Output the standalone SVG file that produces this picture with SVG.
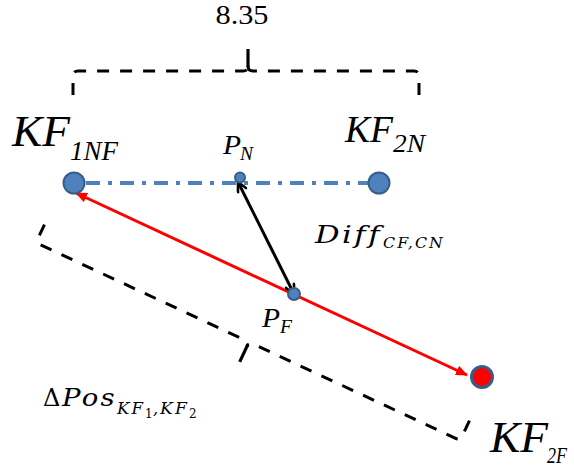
<svg xmlns="http://www.w3.org/2000/svg" width="574" height="471" viewBox="0 0 574 471">
<defs>
<style>
.brace{fill:none;stroke:#000;stroke-width:3;stroke-dasharray:12 11}
.tick{fill:none;stroke:#000;stroke-width:3.2}
.kf{font-family:"Liberation Serif","Times New Roman","DejaVu Serif",serif;font-style:italic;fill:#000}
.math{font-family:"DejaVu Serif","Liberation Serif",serif;font-style:italic;fill:#000;font-variant-ligatures:none;letter-spacing:2px}
.up{font-family:"DejaVu Serif","Liberation Serif",serif;fill:#000}
.node{fill:#4F81BD;stroke:#385D8A;stroke-width:2}
</style>
<marker id="redHead" viewBox="0 0 12 10" refX="11" refY="5" markerWidth="12" markerHeight="10" markerUnits="userSpaceOnUse" orient="auto-start-reverse">
<path d="M0,0 L12,5 L0,10 Z" fill="#FF0000"/>
</marker>
<marker id="blackHead" viewBox="0 0 12 12" refX="11" refY="6" markerWidth="12" markerHeight="12" markerUnits="userSpaceOnUse" orient="auto-start-reverse">
<path d="M1,1 L11,6 L1,11" fill="none" stroke="#000" stroke-width="2.6"/>
</marker>
</defs>
<rect width="574" height="471" fill="#fff"/>

<g id="braces">
<text x="242" y="24" font-family="'Liberation Serif','DejaVu Serif',serif" font-size="27" text-anchor="middle" textLength="53" lengthAdjust="spacingAndGlyphs" fill="#000">8.35</text>
<path class="brace" d="M73,95 L73,76 Q73,71 78,71 L243,71 Q248,71 248,66"/>
<path class="brace" d="M419,95 L419,76 Q419,71 414,71 L253,71 Q248,71 248,66"/>
<path class="tick" d="M248,49 L248,67"/>
<g transform="translate(249,342) rotate(25)">
<path class="brace" d="M-235,-20 L-235,-5 Q-235,0 -230,0 L-5,0 Q0,0 0,5"/>
<path class="brace" d="M233,-22 L233,-5 Q233,0 228,0 L5,0 Q0,0 0,5"/>
<path class="tick" d="M0,4 L0,22"/>
</g>
</g>

<g id="connectors">
<line x1="86" y1="183" x2="368" y2="183" stroke="#4F81BD" stroke-width="4" stroke-dasharray="14 8 4 8"/>
<line x1="76" y1="193" x2="467" y2="375" stroke="#FF0000" stroke-width="3" marker-start="url(#redHead)" marker-end="url(#redHead)"/>
<line x1="294" y1="294" x2="238" y2="182" stroke="#000" stroke-width="3" marker-start="url(#blackHead)" marker-end="url(#blackHead)"/>
</g>

<g id="KF1NF">
<circle class="node" cx="74" cy="183" r="10.5"/>
<text class="kf" x="12" y="146" font-size="45" textLength="58" lengthAdjust="spacingAndGlyphs">KF</text>
<text class="kf" x="70" y="160" font-size="27" textLength="48" lengthAdjust="spacingAndGlyphs">1NF</text>
</g>

<g id="KF2N">
<circle class="node" cx="379" cy="183" r="10.5"/>
<text class="kf" x="345" y="142" font-size="38" textLength="48" lengthAdjust="spacingAndGlyphs">KF</text>
<text class="kf" x="393" y="152" font-size="26" textLength="32" lengthAdjust="spacingAndGlyphs">2N</text>
</g>

<g id="PN">
<circle class="node" cx="240" cy="177.5" r="5" stroke-width="1"/>
<text class="kf" x="223" y="154" font-size="28" textLength="18" lengthAdjust="spacingAndGlyphs">P</text>
<text class="kf" x="240" y="160" font-size="18" textLength="13" lengthAdjust="spacingAndGlyphs">N</text>
</g>

<g id="PF">
<circle class="node" cx="294" cy="294" r="6" stroke-width="1"/>
<text class="kf" x="262" y="327" font-size="28" textLength="18" lengthAdjust="spacingAndGlyphs">P</text>
<text class="kf" x="280" y="333" font-size="18" textLength="12" lengthAdjust="spacingAndGlyphs">F</text>
</g>

<g id="KF2F">
<circle cx="482" cy="377" r="10.5" fill="#FF0000" stroke="#385D8A" stroke-width="3"/>
<text class="kf" x="490" y="452" font-size="45" textLength="58" lengthAdjust="spacingAndGlyphs">KF</text>
<text class="kf" x="547" y="463" font-size="24" textLength="20" lengthAdjust="spacingAndGlyphs">2F</text>
</g>

<g id="labels">
<text class="math" x="315" y="243" font-size="25" textLength="67" lengthAdjust="spacingAndGlyphs">Diff</text>
<text class="math" x="383" y="248" font-size="15" letter-spacing="1" textLength="62" lengthAdjust="spacingAndGlyphs">CF,CN</text>
<text class="up" x="43" y="406" font-size="24">Δ</text>
<text class="math" x="62" y="406" font-size="24" textLength="55" lengthAdjust="spacingAndGlyphs">Pos</text>
<text class="math" x="117" y="414" font-size="16" letter-spacing="1" textLength="28" lengthAdjust="spacingAndGlyphs">KF</text>
<text class="up" x="145" y="418" font-size="12">1</text>
<text class="math" x="153" y="414" font-size="16">,</text>
<text class="math" x="160" y="414" font-size="16" letter-spacing="1" textLength="29" lengthAdjust="spacingAndGlyphs">KF</text>
<text class="up" x="189" y="418" font-size="12">2</text>
</g>
</svg>
